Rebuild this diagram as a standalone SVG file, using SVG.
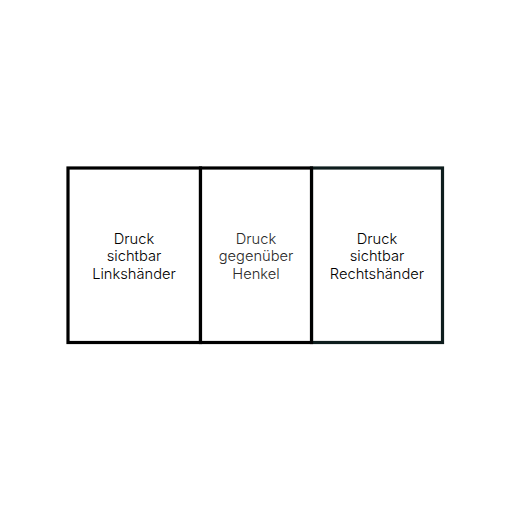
<svg xmlns="http://www.w3.org/2000/svg" width="512" height="512" viewBox="0 0 512 512">
<style>
.cell{fill:#ffffff;stroke:#000000;stroke-width:3.2}
.cellr{fill:#ffffff;stroke:#0e1d1d;stroke-width:3.2}
.lbl{font-family:Inter,"Noto Sans",sans-serif;font-size:14.7px;font-weight:300;fill:#000000;text-anchor:middle}
.mid{fill:#2a2a2a}
</style>
<rect width="512" height="512" fill="#ffffff"/>
<g id="cell-right">
<rect class="cellr" x="311.5" y="168" width="131" height="174.5"/>
<text class="lbl" x="377" y="243.5">Druck</text>
<text class="lbl" x="377" y="261">sichtbar</text>
<text class="lbl" x="377" y="278.5">Rechtshänder</text>
</g>
<g id="cell-left">
<rect class="cell" x="68" y="168" width="132.5" height="174.5"/>
<text class="lbl" x="134" y="243.5">Druck</text>
<text class="lbl" x="134" y="261">sichtbar</text>
<text class="lbl" x="134" y="278.5">Linkshänder</text>
</g>
<g id="cell-middle">
<rect class="cell" x="200.5" y="168" width="111" height="174.5"/>
<text class="lbl mid" x="256" y="243.5">Druck</text>
<text class="lbl mid" x="256" y="261">gegenüber</text>
<text class="lbl mid" x="256" y="278.5">Henkel</text>
</g>
<g id="connectors"></g>
</svg>
